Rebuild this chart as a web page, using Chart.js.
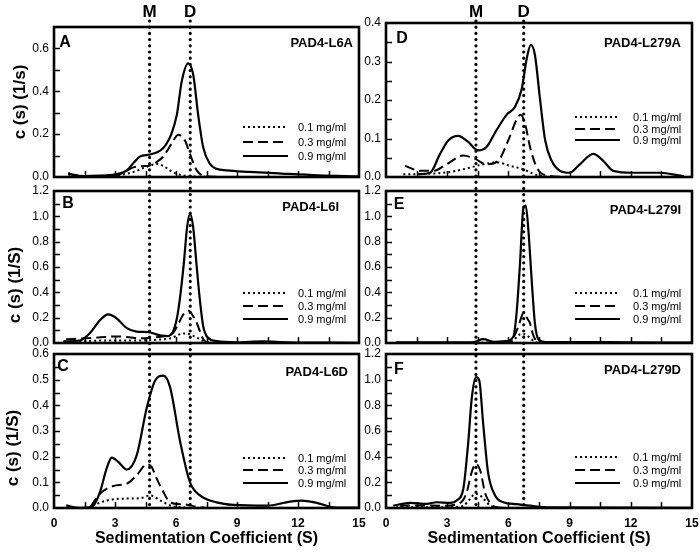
<!DOCTYPE html>
<html><head><meta charset="utf-8">
<script src="https://cdn.jsdelivr.net/npm/chart.js@4.4.0/dist/chart.umd.min.js"></script>
<style>
html,body{margin:0;padding:0;background:#fff;width:700px;height:554px;overflow:hidden}
canvas{position:absolute;left:0;top:0}
</style></head><body>
<canvas id="cA" width="700" height="554"></canvas>
<canvas id="cB" width="700" height="554"></canvas>
<canvas id="cC" width="700" height="554"></canvas>
<canvas id="cD" width="700" height="554"></canvas>
<canvas id="cE" width="700" height="554"></canvas>
<canvas id="cF" width="700" height="554"></canvas>
<script>
// ---------- text / labels ----------
const concLabels = ['0.1 mg/ml', '0.3 mg/ml', '0.9 mg/ml'];
const panelLetters = ['A', 'B', 'C', 'D', 'E', 'F'];
const panelNames = ['PAD4-L6A', 'PAD4-L6I', 'PAD4-L6D', 'PAD4-L279A', 'PAD4-L279I', 'PAD4-L279D'];
const yTitles = ['c (s) (1/s)', 'c (s) (1/S)', 'c (s) (1/S)'];
const xTitle = 'Sedimentation Coefficient (S)';
const markerLabels = ['M', 'D'];
const markersLeft = [4.7, 6.7];
const markersRight = [4.41, 6.75];

// ---------- axes ----------
const xMin = 0, xMax = 15, xTickStep = 1.5, xLabelStep = 3;
const yMax = [0.7, 1.2, 0.6, 0.4, 1.2, 1.2];
const yTickStep = [0.1, 0.1, 0.05, 0.05, 0.1, 0.1];
const yLabelStep = [0.2, 0.2, 0.1, 0.1, 0.2, 0.2];

// ---------- data: [S, c(s)] ----------
const A_01 = [[0.7,0.012],[1.2,0.004],[2.0,0.002],[3.0,0.006],[3.5,0.014],[3.9,0.023],[4.5,0.045],[5.05,0.061],[5.4,0.05],[5.7,0.031],[6.0,0.016],[6.36,0.007],[7.0,0.002],[8.0,0]];
const A_03 = [[0.7,0.015],[1.3,0.006],[2.2,0.002],[3.0,0.004],[3.5,0.025],[3.9,0.045],[4.3,0.05],[4.72,0.054],[5.05,0.07],[5.37,0.095],[5.78,0.155],[6.11,0.197],[6.44,0.17],[6.69,0.107],[7.02,0.031],[7.35,0.006],[8.0,0.001]];
const A_09 = [[0.7,0.018],[1.0,0.008],[1.5,0.004],[2.2,0.006],[3.0,0.012],[3.58,0.031],[3.95,0.07],[4.22,0.095],[4.72,0.105],[5.22,0.123],[5.5,0.15],[5.75,0.195],[6.04,0.29],[6.28,0.445],[6.6,0.53],[6.85,0.476],[7.09,0.29],[7.34,0.138],[7.67,0.061],[8.0,0.038],[8.49,0.031],[9.6,0.024],[11.2,0.016],[13,0.008],[15,0.003]];

const B_01 = [[0.5,0.01],[1.5,0.015],[2.5,0.02],[4.0,0.02],[5.0,0.025],[5.8,0.04],[6.2,0.07],[6.5,0.075],[6.8,0.06],[7.18,0.03],[7.5,0.006],[8.5,0]];
const B_03 = [[0.6,0.03],[1.6,0.037],[2.3,0.045],[3.08,0.052],[3.7,0.045],[4.22,0.037],[5.0,0.045],[5.55,0.057],[5.87,0.083],[6.11,0.148],[6.36,0.226],[6.62,0.255],[6.85,0.21],[7.02,0.16],[7.18,0.09],[7.34,0.03],[7.6,0.005],[8.5,0]];
const B_09 = [[0.46,0.013],[1.28,0.02],[1.77,0.078],[2.26,0.18],[2.67,0.226],[3.08,0.195],[3.58,0.117],[4.06,0.09],[4.64,0.086],[5.0,0.07],[5.3,0.058],[5.6,0.055],[5.85,0.09],[6.05,0.2],[6.2,0.36],[6.38,0.62],[6.55,0.92],[6.69,1.02],[6.84,0.92],[7.02,0.6],[7.18,0.33],[7.34,0.13],[7.55,0.045],[8.0,0.015],[9.0,0.006],[10.2,0.013],[11.5,0.006],[15,0.002]];

const C_01 = [[1.9,0.01],[2.59,0.029],[3.25,0.036],[4.23,0.038],[4.72,0.049],[5.22,0.03],[5.71,0.01],[6.2,0.003],[7.0,0]];
const C_03 = [[1.8,0.005],[2.26,0.055],[2.92,0.086],[3.58,0.095],[4.07,0.128],[4.56,0.17],[4.8,0.16],[5.05,0.115],[5.38,0.062],[5.71,0.022],[6.2,0.015],[6.6,0.012],[7.0,0.005],[7.5,0]];
const C_09 = [[0.6,0.01],[1.0,0.003],[1.44,0.001],[1.93,0.009],[2.26,0.062],[2.59,0.154],[2.84,0.196],[3.16,0.18],[3.58,0.15],[4.07,0.206],[4.56,0.39],[4.97,0.496],[5.38,0.516],[5.71,0.47],[6.2,0.26],[6.69,0.1],[7.18,0.049],[8.0,0.022],[8.82,0.012],[10.46,0.009],[11.61,0.025],[12.18,0.029],[12.92,0.02],[13.74,0.003],[15,0.001]];

const D_01 = [[0.85,0.007],[1.8,0.008],[3.0,0.012],[3.79,0.02],[4.77,0.033],[5.42,0.038],[6.08,0.029],[6.73,0.02],[7.39,0.005],[8.0,0]];
const D_03 = [[0.93,0.029],[1.67,0.016],[2.32,0.016],[2.97,0.033],[3.79,0.056],[4.36,0.047],[4.93,0.033],[5.5,0.042],[6.0,0.096],[6.4,0.149],[6.6,0.162],[6.81,0.14],[7.06,0.078],[7.39,0.025],[7.8,0.005],[9.0,0]];
const D_09 = [[1.58,0.007],[2.16,0.011],[2.65,0.06],[3.05,0.095],[3.54,0.107],[4.03,0.091],[4.52,0.069],[4.93,0.078],[5.42,0.122],[5.92,0.162],[6.32,0.182],[6.65,0.228],[6.9,0.308],[7.1,0.343],[7.3,0.317],[7.55,0.202],[7.8,0.096],[8.12,0.042],[8.53,0.016],[9.0,0.011],[9.5,0.033],[10.16,0.06],[10.65,0.042],[11.14,0.016],[12.1,0.011],[13.4,0.011],[14.6,0.002]];

const E_01 = [[0.5,0],[6.0,0.003],[6.3,0.03],[6.6,0.07],[6.8,0.07],[7.06,0.04],[7.3,0.01],[7.6,0]];
const E_03 = [[0.5,0],[5.8,0.002],[6.2,0.03],[6.49,0.13],[6.73,0.233],[6.9,0.2],[7.06,0.155],[7.22,0.06],[7.45,0.01],[8.0,0]];
const E_09 = [[0.5,0.005],[3.5,0.005],[4.3,0.008],[4.77,0.03],[5.3,0.01],[5.9,0.015],[6.24,0.05],[6.4,0.235],[6.57,0.63],[6.73,1.06],[6.85,1.085],[6.98,0.89],[7.14,0.5],[7.3,0.155],[7.47,0.03],[7.8,0.008],[9.0,0.008],[12,0.005],[15,0.003]];

const F_01 = [[0.5,0.005],[3.5,0.008],[3.8,0.018],[4.12,0.07],[4.36,0.11],[4.6,0.1],[4.85,0.06],[5.1,0.02],[5.5,0.003],[6.0,0]];
const F_03 = [[0.69,0.018],[1.5,0.02],[2.8,0.018],[3.63,0.04],[3.95,0.12],[4.2,0.28],[4.41,0.345],[4.64,0.28],[4.85,0.12],[5.1,0.04],[5.4,0.005],[6.0,0]];
const F_09 = [[0.36,0.018],[1.18,0.04],[2.0,0.032],[2.48,0.045],[3.14,0.04],[3.47,0.06],[3.79,0.15],[4.03,0.51],[4.2,0.85],[4.41,1.02],[4.57,0.995],[4.77,0.645],[5.0,0.28],[5.34,0.1],[5.75,0.045],[6.4,0.03],[7.06,0.018],[8.0,0.005],[15,0.002]];

const panelSeries = [[A_01,A_03,A_09],[B_01,B_03,B_09],[C_01,C_03,C_09],[D_01,D_03,D_09],[E_01,E_03,E_09],[F_01,F_03,F_09]];

// ---------- layout (pixel placement) ----------
const FONT = "'Liberation Sans', Arial, Helvetica, sans-serif";
const Y_AXIS_W = 40, X_AXIS_H = 30;
const layout = [
  {id:'cA', left:54,  right:359, top:27,  bottom:177, col:0, letter:[65,43],   nameR:353, nameY:43,  leg:[127,142,156], yt:[20,102]},
  {id:'cB', left:54,  right:359, top:191, bottom:343, col:0, letter:[68,204],  nameR:339, nameY:207, leg:[293,306,319], yt:[15,285]},
  {id:'cC', left:54,  right:359, top:354, bottom:508, col:0, letter:[63,367],  nameR:348, nameY:372, leg:[458,470,483], yt:[13,448]},
  {id:'cD', left:386, right:692, top:23,  bottom:177, col:1, letter:[402,39],  nameR:681, nameY:43,  leg:[117,129,140]},
  {id:'cE', left:386, right:692, top:191, bottom:343, col:1, letter:[399,205], nameR:681, nameY:210, leg:[293,306,319]},
  {id:'cF', left:386, right:692, top:354, bottom:508, col:1, letter:[399,370], nameR:681, nameY:370, leg:[457,470,483]}
];
const styles = [
  {w:2,   dash:[2,3]},
  {w:2,   dash:[10,5]},
  {w:2.2, dash:[]}
];

function isMult(v, step){ const q = v/step; return Math.abs(q - Math.round(q)) < 1e-6; }

function panelPlugin(idx){
  const L = layout[idx];
  return {
    id:'panel'+idx,
    afterDraw(chart){
      const c = chart.ctx, a = chart.chartArea, xs = chart.scales.x, ys = chart.scales.y;
      c.save();
      c.strokeStyle = '#000'; c.fillStyle = '#000';
      // tick marks (inward)
      c.lineWidth = 1.5; c.setLineDash([]);
      ys.ticks.forEach(t => {
        if (t.value <= 0 || t.value >= yMax[idx] - 1e-9) return;
        const y = Math.round(ys.getPixelForValue(t.value)) + 0.5;
        c.beginPath(); c.moveTo(a.left, y); c.lineTo(a.left + 6, y); c.stroke();
      });
      xs.ticks.forEach(t => {
        if (t.value <= 0 || t.value >= xMax) return;
        const x = Math.round(xs.getPixelForValue(t.value)) + 0.5;
        c.beginPath(); c.moveTo(x, a.bottom); c.lineTo(x, a.bottom - 6); c.stroke();
      });
      // frame
      c.lineWidth = 2.6;
      c.strokeRect(a.left, a.top, a.right - a.left, a.bottom - a.top);
      // panel letter & name
      c.textBaseline = 'middle';
      c.textAlign = 'center';
      c.font = 'bold 16px ' + FONT;
      c.fillText(panelLetters[idx], L.letter[0], L.letter[1]);
      c.textAlign = 'right';
      c.font = 'bold 13px ' + FONT;
      c.fillText(panelNames[idx], L.nameR, L.nameY);
      // legend
      const lx1 = a.right - (L.col === 0 ? 116 : 117), lx2 = lx1 + 45, tx = lx2 + (L.col === 0 ? 10 : 13);
      chart.data.datasets.forEach((ds, i) => {
        const y = L.leg[i];
        c.lineWidth = ds.borderWidth; c.setLineDash(ds.borderDash || []);
        c.beginPath(); c.moveTo(lx1, y); c.lineTo(lx2, y); c.stroke();
        c.setLineDash([]);
        c.textAlign = 'left'; c.font = '11px ' + FONT;
        c.fillText(ds.label, tx, y + 0.5);
      });
      // y title (left column)
      if (L.yt) {
        c.save();
        c.translate(L.yt[0], L.yt[1]); c.rotate(-Math.PI/2);
        c.textAlign = 'center'; c.textBaseline = 'middle';
        c.font = 'bold 17px ' + FONT;
        c.fillText(yTitles[idx], 0, 0);
        c.restore();
      }
      // x title (bottom row)
      if (idx === 2 || idx === 5) {
        c.textAlign = 'center'; c.textBaseline = 'middle';
        c.font = 'bold 16px ' + FONT;
        c.fillText(xTitle, (a.left + a.right)/2, 539);
      }
      // M / D reference lines (top row draws full-height lines)
      if (idx === 0 || idx === 3) {
        const marks = idx === 0 ? markersLeft : markersRight;
        const yBottom = layout[idx + 2].bottom;
        marks.forEach((m, k) => {
          const x = xs.getPixelForValue(m);
          c.lineWidth = 3.2; c.lineCap = 'round'; c.setLineDash([0, 6.2]);
          c.beginPath(); c.moveTo(x, 21); c.lineTo(x, yBottom); c.stroke();
          c.setLineDash([]); c.lineCap = 'butt';
          c.textAlign = 'center'; c.textBaseline = 'middle';
          c.font = 'bold 17px ' + FONT;
          c.fillText(markerLabels[k], x, 12);
        });
      }
      c.restore();
    }
  };
}

layout.forEach((L, idx) => {
  const datasets = panelSeries[idx].map((pts, i) => ({
    label: concLabels[i],
    data: pts.map(p => ({x: p[0], y: p[1]})),
    borderColor: '#000',
    borderWidth: styles[i].w,
    borderDash: styles[i].dash,
    pointRadius: 0,
    fill: false,
    cubicInterpolationMode: 'monotone'
  }));
  const showX = (idx === 2 || idx === 5);
  new Chart(document.getElementById(L.id), {
    type: 'line',
    data: {datasets},
    options: {
      responsive: false, animation: false, events: [],
      layout: {padding: {left: L.left - Y_AXIS_W, right: 700 - L.right, top: L.top, bottom: 554 - L.bottom - X_AXIS_H}},
      plugins: {legend: {display: false}, tooltip: {enabled: false}, title: {display: false}},
      scales: {
        x: {
          type: 'linear', min: xMin, max: xMax,
          afterFit(s){ s.height = X_AXIS_H; s.paddingLeft = 0; s.paddingRight = 0; },
          grid: {display: false, drawTicks: false},
          border: {display: false},
          ticks: {
            display: showX, stepSize: xTickStep, autoSkip: false, maxRotation: 0, padding: 8,
            color: '#000', font: {family: FONT, size: 12, weight: 'bold'},
            callback: v => isMult(v, xLabelStep) ? String(Math.round(v)) : ''
          }
        },
        y: {
          type: 'linear', min: 0, max: yMax[idx],
          afterFit(s){ s.width = Y_AXIS_W; s.paddingTop = 0; s.paddingBottom = 0; },
          grid: {display: false, drawTicks: false},
          border: {display: false},
          ticks: {
            stepSize: yTickStep[idx], autoSkip: false, padding: 5,
            color: '#000', font: {family: FONT, size: 12},
            callback: v => isMult(v, yLabelStep[idx]) ? v.toFixed(1) : ''
          }
        }
      }
    },
    plugins: [panelPlugin(idx)]
  });
});
</script>
</body></html>
